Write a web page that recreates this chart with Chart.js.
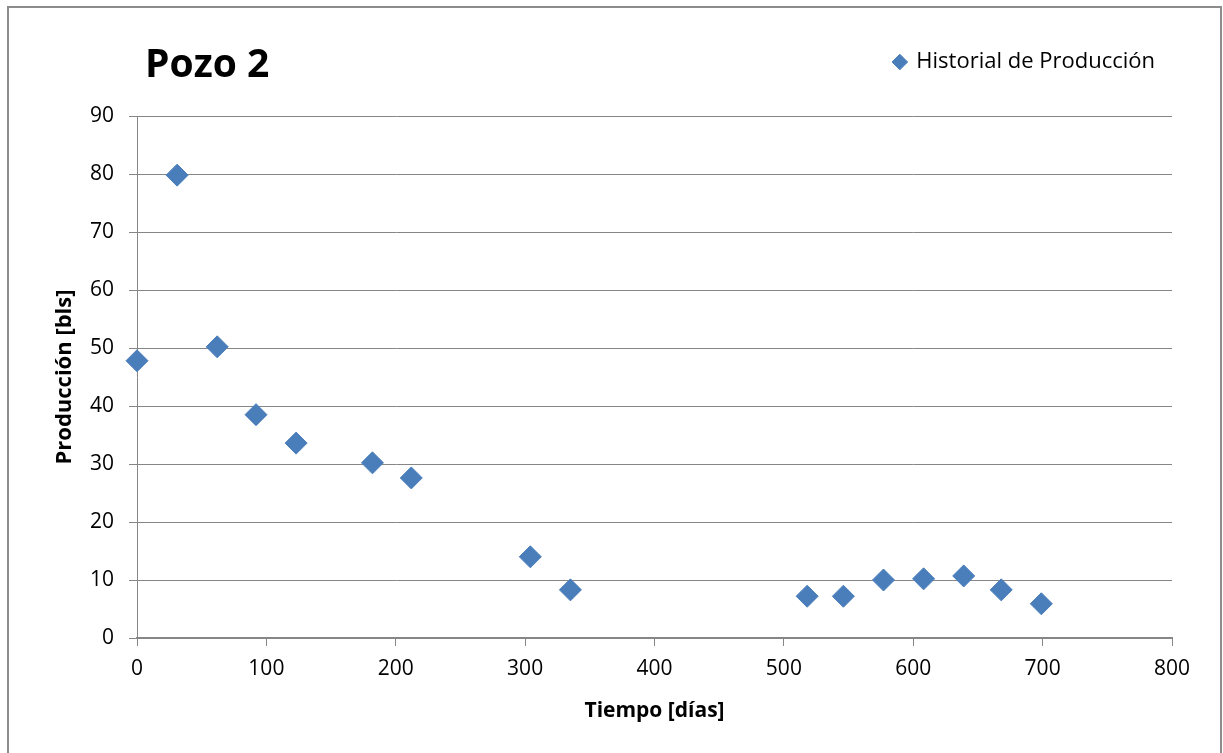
<!DOCTYPE html>
<html>
<head>
<meta charset="utf-8">
<script src="https://cdn.jsdelivr.net/npm/chart.js@4.4.1/dist/chart.umd.min.js"></script>
<style>
  html, body { margin: 0; padding: 0; background: #ffffff; }
  #wrap { width: 1223px; height: 753px; position: relative; }
</style>
</head>
<body>
<div id="wrap"><canvas id="pozoChart" width="1223" height="753"></canvas></div>
<script>
// Datos (Pozo 2)
const tiempoDias = [0, 31, 62, 92, 123, 182, 212, 304, 335, 518, 546, 577, 608, 639, 668, 699];
const produccionBls = [47.8, 79.8, 50.2, 38.5, 33.6, 30.2, 27.6, 14.0, 8.3, 7.2, 7.2, 10.0, 10.2, 10.7, 8.3, 5.9];
const tituloGrafico = 'Pozo 2';
const nombreSerie = 'Historial de Producción';
const ejeX = { titulo: 'Tiempo [días]', min: 0, max: 800, paso: 100 };
const ejeY = { titulo: 'Producción [bls]', min: 0, max: 90, paso: 10 };

const FUENTE = "'Open Sans', 'Noto Sans', sans-serif";
const AZUL = '#4a7ebb';
const GRIS = '#868686';
const MARGEN_SUP = 34;
const ALTO_LEYENDA = 116 - MARGEN_SUP; // el área del gráfico empieza en y = 116

// Marco exterior y título del gráfico
const marcoPlugin = {
    id: 'marco',
    beforeDraw(chart) {
        const ctx = chart.ctx;
        ctx.save();
        ctx.fillStyle = '#ffffff';
        ctx.fillRect(0, 0, chart.width, chart.height);
        ctx.strokeStyle = '#8c8c8c';
        ctx.lineWidth = 2;
        ctx.strokeRect(8, 7, 1213, 760);
        ctx.restore();
    },
    afterDraw(chart) {
        const ctx = chart.ctx;
        ctx.save();
        ctx.fillStyle = '#000000';
        ctx.font = "bold 39px " + FUENTE;
        ctx.textBaseline = 'middle';
        ctx.textAlign = 'left';
        ctx.fillText(tituloGrafico, 145, 66);
        ctx.restore();
    }
};

// La leyenda ocupa más alto, como en el original (espacio bajo la leyenda)
const leyendaAltaPlugin = {
    id: 'leyendaAlta',
    beforeLayout(chart) {
        const leyenda = chart.legend;
        if (leyenda && !leyenda._ajustada) {
            const fitOriginal = leyenda.fit.bind(leyenda);
            leyenda.fit = function () {
                fitOriginal();
                this.height = ALTO_LEYENDA;
            };
            leyenda._ajustada = true;
        }
    }
};

const puntos = tiempoDias.map((t, i) => ({ x: t, y: produccionBls[i] }));

const ctx = document.getElementById('pozoChart').getContext('2d');
const pozoChart = new Chart(ctx, {
    type: 'scatter',
    data: {
        datasets: [{
            label: nombreSerie,
            data: puntos,
            pointStyle: 'rectRot',
            pointRadius: 11,
            pointHoverRadius: 11,
            backgroundColor: AZUL,
            borderColor: AZUL,
            borderWidth: 1,
            clip: false
        }]
    },
    options: {
        responsive: false,
        animation: false,
        events: [],
        layout: { padding: { left: 0, right: 51, top: MARGEN_SUP, bottom: 0 } },
        plugins: {
            legend: {
                display: true,
                position: 'top',
                align: 'end',
                labels: {
                    usePointStyle: true,
                    pointStyle: 'rectRot',
                    boxWidth: 11,
                    boxHeight: 11,
                    color: '#000000',
                    font: { family: FUENTE, size: 22 },
                    padding: 17
                }
            },
            title: { display: false },
            tooltip: { enabled: false }
        },
        scales: {
            x: {
                type: 'linear',
                min: ejeX.min,
                max: ejeX.max,
                afterFit(scale) { scale.height = 115; },
                ticks: {
                    stepSize: ejeX.paso,
                    color: '#000000',
                    font: { family: FUENTE, size: 21 },
                    padding: 10,
                    maxRotation: 0
                },
                grid: {
                    drawOnChartArea: false,
                    drawTicks: true,
                    tickLength: 8,
                    color: GRIS
                },
                border: { color: GRIS, width: 2 },
                title: {
                    display: true,
                    text: ejeX.titulo,
                    color: '#000000',
                    font: { family: FUENTE, size: 21, weight: 'bold' },
                    padding: { top: 0, bottom: 29 }
                }
            },
            y: {
                type: 'linear',
                min: ejeY.min,
                max: ejeY.max,
                afterFit(scale) { scale.width = 137; },
                ticks: {
                    stepSize: ejeY.paso,
                    color: '#000000',
                    font: { family: FUENTE, size: 21 },
                    padding: 15
                },
                grid: {
                    color: GRIS,
                    lineWidth: 1,
                    drawTicks: true,
                    tickLength: 8
                },
                border: { color: GRIS, width: 1 },
                title: {
                    display: true,
                    text: ejeY.titulo,
                    color: '#000000',
                    font: { family: FUENTE, size: 22, weight: 'bold' },
                    padding: { top: 52, bottom: 0 }
                }
            }
        }
    },
    plugins: [marcoPlugin, leyendaAltaPlugin]
});
</script>
</body>
</html>
